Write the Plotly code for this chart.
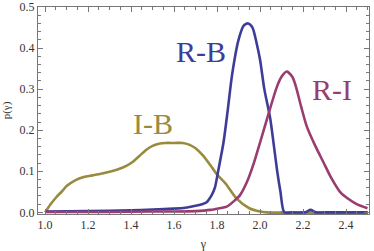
import plotly.graph_objects as go

# I-B (olive)
ib_x = [1.0, 1.023, 1.054, 1.08, 1.10, 1.14, 1.18, 1.22, 1.26, 1.30, 1.34, 1.38, 1.41, 1.44, 1.47, 1.50, 1.53, 1.56, 1.60, 1.64, 1.67, 1.70, 1.735, 1.77, 1.80, 1.84, 1.89, 1.95, 2.0, 2.03, 2.5]
ib_y = [0.0, 0.018, 0.038, 0.052, 0.064, 0.078, 0.086, 0.090, 0.094, 0.099, 0.105, 0.114, 0.124, 0.138, 0.152, 0.162, 0.167, 0.169, 0.169, 0.169, 0.165, 0.156, 0.138, 0.114, 0.092, 0.070, 0.034, 0.010, 0.002, 0.0, 0.0]

# R-B (blue)
rb_x = [1.0, 1.2, 1.4, 1.5, 1.6, 1.66, 1.70, 1.73, 1.75, 1.775, 1.79, 1.805, 1.83, 1.85, 1.87, 1.90, 1.925, 1.945, 1.965, 1.985, 2.0, 2.02, 2.047, 2.065, 2.08, 2.095, 2.113, 2.15, 2.21, 2.235, 2.26, 2.3, 2.5]
rb_y = [0.002, 0.003, 0.005, 0.007, 0.009, 0.012, 0.016, 0.020, 0.024, 0.042, 0.060, 0.100, 0.170, 0.250, 0.335, 0.420, 0.455, 0.460, 0.450, 0.410, 0.372, 0.300, 0.230, 0.160, 0.100, 0.050, 0.0, 0.0, 0.0, 0.006, 0.0, 0.0, 0.0]

# R-I (magenta)
ri_x = [1.0, 1.3, 1.5, 1.6, 1.7, 1.77, 1.81, 1.845, 1.88, 1.907, 1.94, 1.97, 2.0, 2.035, 2.078, 2.10, 2.124, 2.15, 2.165, 2.19, 2.217, 2.256, 2.295, 2.33, 2.372, 2.41, 2.45, 2.5]
ri_y = [0.001, 0.001, 0.002, 0.002, 0.003, 0.006, 0.010, 0.014, 0.028, 0.042, 0.075, 0.118, 0.170, 0.232, 0.305, 0.330, 0.343, 0.330, 0.310, 0.260, 0.210, 0.163, 0.122, 0.085, 0.050, 0.033, 0.020, 0.010]

labels = ["R-B", "R-I", "I-B"]
label_x = [1.726, 2.335, 1.50]
label_y = [0.392, 0.299, 0.217]

c_rb = "rgb(61,61,153)"
c_ri = "rgb(153,61,113)"
c_ib = "rgb(153,139,61)"

SERIF = "Times New Roman, Liberation Serif, serif"

fig = go.Figure()
for xs, ys, c in [(ib_x, ib_y, c_ib), (rb_x, rb_y, c_rb), (ri_x, ri_y, c_ri)]:
    fig.add_trace(go.Scatter(x=xs, y=ys, mode="lines",
                             line=dict(color=c, width=2.6, shape="spline", smoothing=0.7),
                             showlegend=False, hoverinfo="skip"))

for t, x, y, c in zip(labels, label_x, label_y, [c_rb, c_ri, c_ib]):
    fig.add_annotation(x=x, y=y, text=t, showarrow=False,
                       font=dict(family=SERIF, size=30, color=c),
                       xanchor="center", yanchor="middle")

axis_common = dict(showline=True, linecolor="#777", linewidth=1, mirror="allticks",
                   ticks="inside", tickcolor="#777", ticklen=5, showgrid=False,
                   zeroline=False, tickformat=".1f", automargin=False,
                   tickfont=dict(family=SERIF, size=12, color="#333"))

fig.update_xaxes(range=[0.967, 2.507], tick0=1.0, dtick=0.2,
                 minor=dict(ticks="inside", dtick=0.05, ticklen=3, tickcolor="#777"),
                 title=dict(text="γ", font=dict(family=SERIF, size=12, color="#333"), standoff=8),
                 **axis_common)
fig.update_yaxes(range=[-0.004, 0.5], tick0=0.0, dtick=0.1,
                 minor=dict(ticks="inside", dtick=0.02, ticklen=3, tickcolor="#777"),
                 title=dict(text="p(γ)", font=dict(family=SERIF, size=11, color="#333"), standoff=6),
                 **axis_common)

fig.update_layout(width=374, height=251, margin=dict(l=38, r=5, t=7, b=37),
                  plot_bgcolor="white", paper_bgcolor="white")

fig.write_html("out.html", config={"displayModeBar": False, "staticPlot": True},
               post_script="document.body.style.margin='0';document.body.style.padding='0';")
